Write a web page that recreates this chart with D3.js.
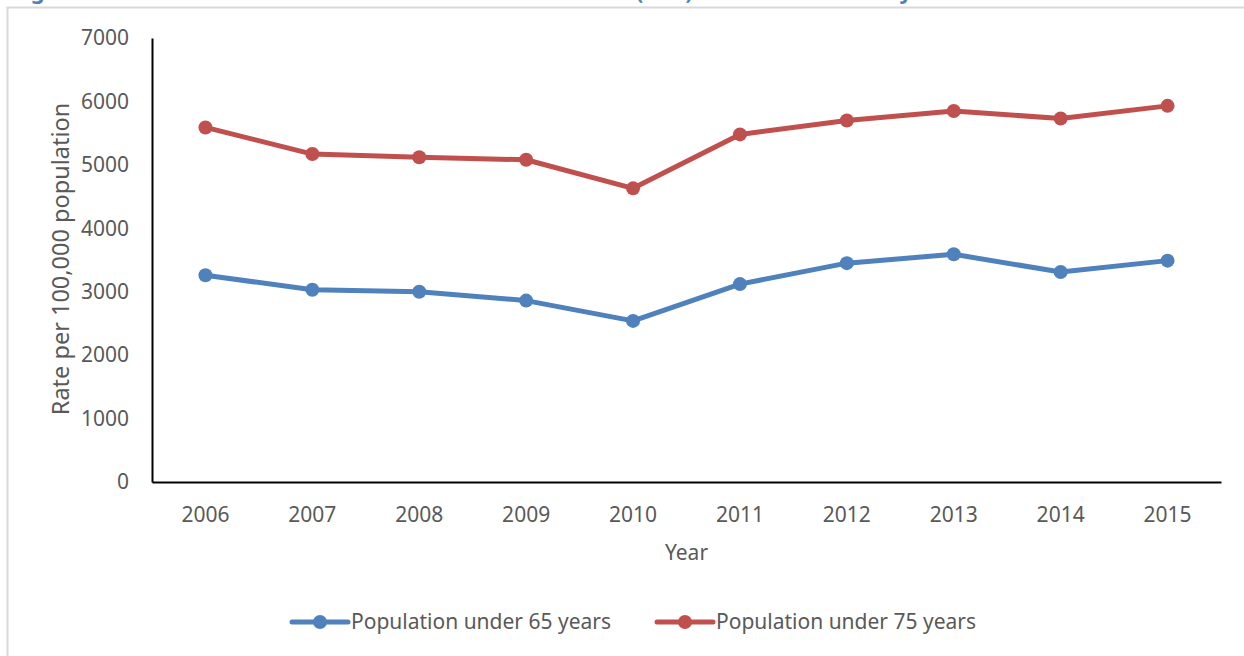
<!DOCTYPE html>
<html>
<head>
<meta charset="utf-8">
<script src="https://cdn.jsdelivr.net/npm/d3@7"></script>
<style>
  body { margin: 0; background: #fff; }
  svg text { font-family: "Noto Sans", "Open Sans", sans-serif; }
</style>
</head>
<body>
<svg id="chart" width="1244" height="656"></svg>
<script>
// chart data
const years = ['2006', '2007', '2008', '2009', '2010', '2011', '2012', '2013', '2014', '2015'];
const under65 = [3260, 3030, 3000, 2860, 2540, 3120, 3450, 3590, 3310, 3490];
const under75 = [5590, 5170, 5120, 5080, 4630, 5480, 5700, 5850, 5730, 5930];
const yTicks = [0, 1000, 2000, 3000, 4000, 5000, 6000, 7000];
const seriesNames = ['Population under 65 years', 'Population under 75 years'];
const seriesColors = ['#4f81bd', '#c0504d'];

const svg = d3.select('#chart');
const textColor = '#595959';
const fontSize = 21;

// frame of the chart area (partly cut off)
svg.append('path')
    .attr('d', 'M7.5,656 V7.5 H1244')
    .attr('fill', 'none')
    .attr('stroke', '#d9d9d9')
    .attr('stroke-width', 2);

// title, cut off at top edge like the source - only descenders show
const title = svg.append('g')
    .attr('fill', '#4f81bd')
    .attr('font-weight', 'bold')
    .attr('font-size', 22);
title.append('text').attr('x', 12).attr('y', -1).text('Figure 4: Rate of total avoidable admissions');
title.append('text').attr('x', 636).attr('y', -1).text('(ASR)');
title.append('text').attr('x', 912).attr('y', -1).attr('text-anchor', 'end').text('for the elderly');

const plot = {left: 152, right: 1221, top: 38, bottom: 482};

const x = d3.scaleBand()
    .domain(years)
    .range([plot.left, plot.right]);

const y = d3.scaleLinear()
    .domain([0, 7000])
    .range([plot.bottom, plot.top]);

// y axis
const yAxis = svg.append('g')
    .attr('transform', `translate(${plot.left},0)`)
    .call(d3.axisLeft(y).tickValues(yTicks).tickFormat(d3.format('d')).tickSize(0).tickPadding(23));
yAxis.select('.domain').attr('stroke', '#000').attr('stroke-width', 2);
yAxis.selectAll('.tick text')
    .attr('fill', textColor)
    .attr('font-size', fontSize)
    .attr('font-family', '"Noto Sans", "Open Sans", sans-serif');

// x axis
const xAxis = svg.append('g')
    .attr('transform', `translate(0,${plot.bottom})`)
    .call(d3.axisBottom(x).tickSize(0).tickPadding(25));
xAxis.select('.domain').attr('stroke', '#000').attr('stroke-width', 2);
xAxis.selectAll('.tick text')
    .attr('fill', textColor)
    .attr('font-size', fontSize)
    .attr('font-family', '"Noto Sans", "Open Sans", sans-serif');

// axis titles
svg.append('text')
    .attr('x', (plot.left + plot.right) / 2)
    .attr('y', 560)
    .attr('text-anchor', 'middle')
    .attr('fill', textColor)
    .attr('font-size', fontSize)
    .text('Year');

svg.append('text')
    .attr('transform', `translate(69,${(plot.top + plot.bottom) / 2 - 1}) rotate(-90)`)
    .attr('text-anchor', 'middle')
    .attr('fill', textColor)
    .attr('font-size', 23.5)
    .text('Rate per 100,000 population');

// lines + markers
const series = [under65, under75];
const line = d3.line()
    .x((d, i) => x(years[i]) + x.bandwidth() / 2)
    .y(d => y(d));

series.forEach((vals, s) => {
    const g = svg.append('g');
    g.append('path')
        .datum(vals)
        .attr('d', line)
        .attr('fill', 'none')
        .attr('stroke', seriesColors[s])
        .attr('stroke-width', 5)
        .attr('stroke-linejoin', 'round')
        .attr('stroke-linecap', 'round');
    g.selectAll('circle')
        .data(vals)
        .join('circle')
        .attr('cx', (d, i) => x(years[i]) + x.bandwidth() / 2)
        .attr('cy', d => y(d))
        .attr('r', 7)
        .attr('fill', seriesColors[s]);
});

// legend
const legendX = [292, 657];
const legend = svg.append('g');
seriesNames.forEach((name, s) => {
    const lg = legend.append('g').attr('transform', `translate(${legendX[s]},622)`);
    lg.append('line')
        .attr('x1', 0).attr('x2', 56)
        .attr('stroke', seriesColors[s])
        .attr('stroke-width', 5)
        .attr('stroke-linecap', 'round');
    lg.append('circle')
        .attr('cx', 28)
        .attr('r', 7)
        .attr('fill', seriesColors[s]);
    lg.append('text')
        .attr('x', 59)
        .attr('dy', '0.35em')
        .attr('fill', textColor)
        .attr('font-size', fontSize)
        .text(name);
});
</script>
</body>
</html>
